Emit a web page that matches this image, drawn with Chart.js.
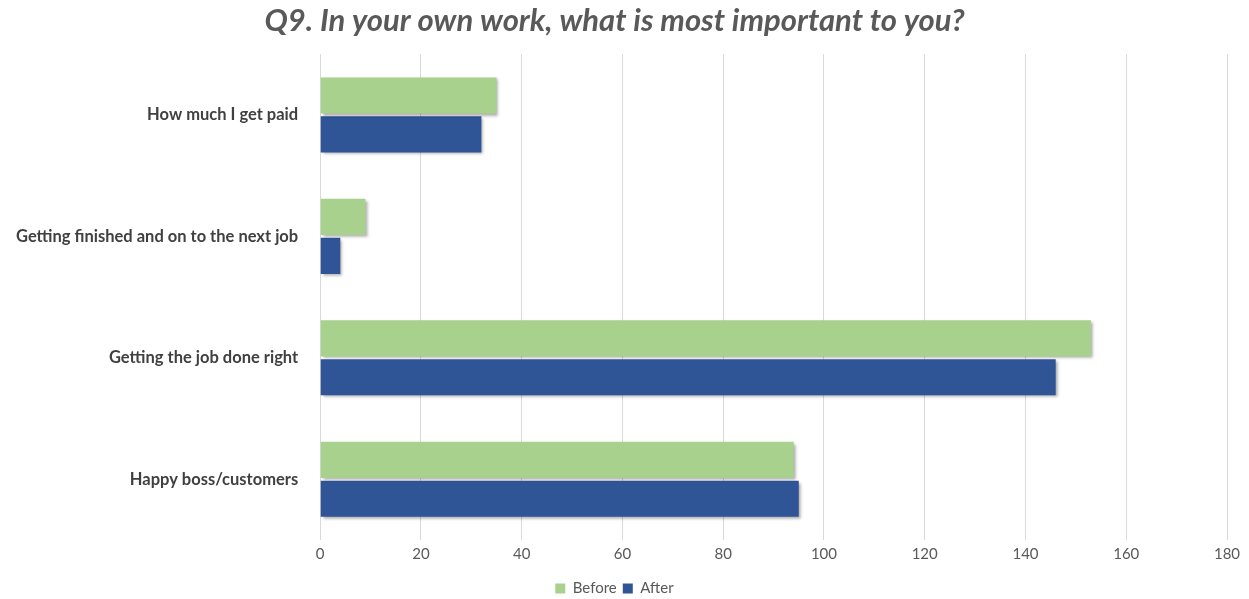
<!DOCTYPE html>
<html><head><meta charset="utf-8">
<script src="https://cdn.jsdelivr.net/npm/chart.js@4/dist/chart.umd.min.js"></script>
<style>html,body{margin:0;padding:0;background:#fff}#wrap{width:1249px;height:599px}</style>
</head><body><div id="wrap"><canvas id="c" width="1249" height="599"></canvas></div>
<script>
const categories = ["How much I get paid","Getting finished and on to the next job","Getting the job done right","Happy boss/customers"];
const beforeValues = [35, 9, 153, 94];
const afterValues = [32, 4, 146, 95];
const tickMax = 180;
const tickStep = 20;

const shadowPlugin = {
  id: 'shadow',
  beforeDatasetsDraw(chart){ const c=chart.ctx; c.save(); c.shadowColor='rgba(0,0,0,0.35)'; c.shadowBlur=3; c.shadowOffsetX=2; c.shadowOffsetY=2; },
  afterDatasetsDraw(chart){ chart.ctx.restore(); }
};
const legendShift = {
  id: 'legendShift',
  afterLayout(chart){ if (chart.legend) { chart.legend.top += 7; chart.legend.bottom += 7; } }
};

new Chart(document.getElementById('c'), {
  type: 'bar',
  data: { labels: categories, datasets: [
    { label: 'Before', data: beforeValues, backgroundColor: '#A9D18E', categoryPercentage: 0.64, barPercentage: 0.93 },
    { label: 'After', data: afterValues, backgroundColor: '#2F5597', categoryPercentage: 0.64, barPercentage: 0.93 }
  ]},
  options: {
    indexAxis: 'y', responsive: false, animation: false,
    layout: { padding: { left: 2, right: 22, top: 0, bottom: 0 } },
    plugins: {
      title: { display: true, text: 'Q9. In your own work, what is most important to you?', color: '#595959',
        font: { family: 'Lato', size: 31, weight: 'bold', style: 'italic' }, padding: { top: 2, bottom: 15 } },
      legend: { position: 'bottom', labels: { boxWidth: 10, boxHeight: 10, color: '#595959', font: { family: 'Lato', size: 15 }, padding: 6 } },
      tooltip: { enabled: false }
    },
    scales: {
      x: { min: 0, max: tickMax, ticks: { stepSize: tickStep, color: '#595959', font: { family: 'Lato', size: 15 }, padding: 5 },
        grid: { color: '#d9d9d9', drawTicks: false }, border: { display: false } },
      y: { ticks: { color: '#404040', font: { family: 'Lato', size: 16.5, weight: 'bold' }, padding: 14 },
        grid: { display: false }, border: { display: false } }
    }
  },
  plugins: [shadowPlugin, legendShift]
});
</script></body></html>
